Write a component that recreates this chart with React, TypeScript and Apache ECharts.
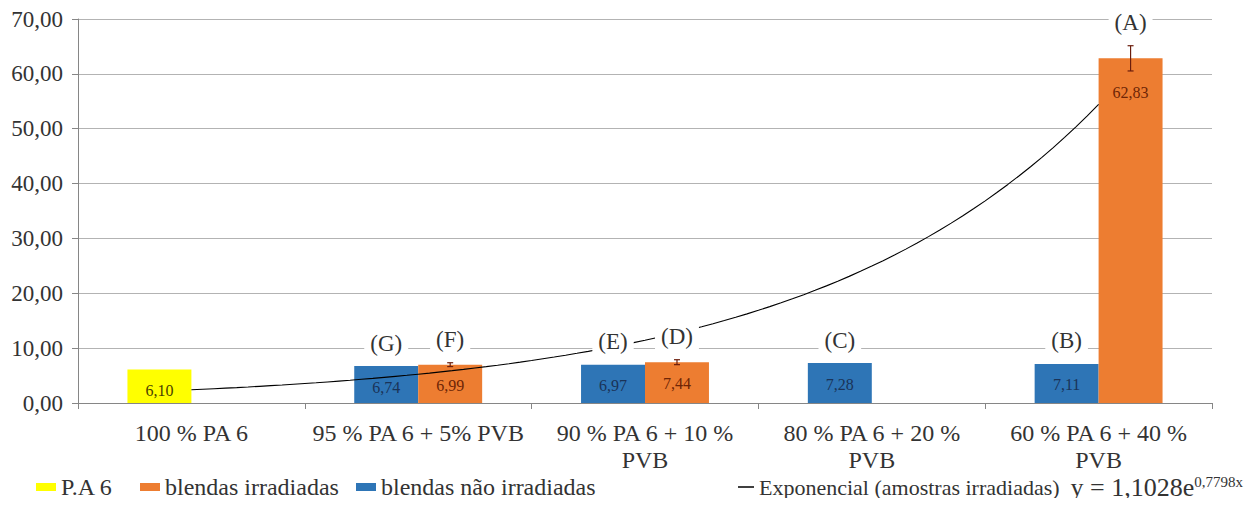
import React, { useEffect, useRef } from "react";
import * as echarts from "echarts";

const CATEGORIES = [
  "100 % PA 6",
  "95 % PA 6 + 5% PVB",
  "90 % PA 6 + 10 %\nPVB",
  "80 % PA 6 + 20 %\nPVB",
  "60 % PA 6 + 40 %\nPVB",
];
const PA6 = [6.1, null, null, null, null];
const NAO_IRRADIADAS = [null, 6.74, 6.97, 7.28, 7.11];
const IRRADIADAS = [null, 6.99, 7.44, null, 62.83];
const IRRADIADAS_ERR = [null, 0.35, 0.45, null, 2.3];
const LEFT_LETTERS = ["", "(G)", "(E)", "(C)", "(B)"];
const RIGHT_LETTERS = ["", "(F)", "(D)", "", "(A)"];
const TREND_A = 1.1028;
const TREND_B = 0.7798;
const Y_MIN = 0;
const Y_MAX = 70;
const Y_STEP = 10;

const SERIF = "Liberation Serif";
const BAR_FRAC = 0.282;

const fmt = (v: number) => v.toFixed(2).replace(".", ",");

export default function App() {
  const ref = useRef<HTMLDivElement>(null);
  useEffect(() => {
    if (!ref.current) return;
    const chart = echarts.init(ref.current, null, { renderer: "svg" });

    const trend: number[][] = [];
    for (let k = 0; k <= 80; k++) {
      const x = 1 + k * 0.05;
      trend.push([x, TREND_A * Math.exp(TREND_B * x)]);
    }

    const makeAnno = (
      values: (number | null)[],
      errs: (number | null)[] | null,
      letters: string[],
      side: number
    ) => {
      const data: number[][] = [];
      values.forEach((v, i) => {
        if (v != null) data.push([i, v, errs && errs[i] != null ? (errs[i] as number) : 0]);
      });
      return {
        type: "custom",
        xAxisIndex: 0,
        yAxisIndex: 0,
        z: 5,
        silent: true,
        data,
        encode: { x: 0, y: 1 },
        renderItem: (params: any, api: any) => {
          const cat = api.value(0);
          const val = api.value(1);
          const err = api.value(2);
          const band = api.size([1, 0])[0];
          const cx = api.coord([cat, 0])[0] + (side * band * BAR_FRAC) / 2;
          const yTop = api.coord([cat, val + err])[1];
          const yBot = api.coord([cat, val - err])[1];
          const children: any[] = [];
          if (err > 0) {
            const stroke = "#6b1d0c";
            children.push(
              { type: "line", shape: { x1: cx, y1: yTop, x2: cx, y2: yBot }, style: { stroke, lineWidth: 1.2 } },
              { type: "line", shape: { x1: cx - 3, y1: yTop, x2: cx + 3, y2: yTop }, style: { stroke, lineWidth: 1.2 } },
              { type: "line", shape: { x1: cx - 3, y1: yBot, x2: cx + 3, y2: yBot }, style: { stroke, lineWidth: 1.2 } }
            );
          }
          const letter = letters[cat];
          if (letter) {
            children.push({
              type: "text",
              x: cx,
              y: yTop - 23,
              style: {
                text: letter,
                fill: "#333",
                font: `23px ${SERIF}`,
                align: "center",
                verticalAlign: "middle",
                backgroundColor: "#fff",
                padding: [1, 6],
              },
            });
          }
          return { type: "group", children };
        },
      };
    };

    const barLabel = (color: string) => ({
      show: true,
      position: "insideTop",
      distance: 13,
      color,
      fontFamily: SERIF,
      fontSize: 16,
      formatter: (p: any) => fmt(p.value),
    });

    const barLegend = (name: string, left: number) => ({
      left,
      top: 474,
      icon: "rect",
      itemWidth: 20,
      itemHeight: 8,
      padding: 0,
      data: [name],
      textStyle: { fontFamily: SERIF, fontSize: 24, lineHeight: 26, color: "#333" },
    });

    chart.setOption({
      animation: false,
      backgroundColor: "#fff",
      textStyle: { fontFamily: SERIF },
      grid: { left: 78, right: 43, top: 19, bottom: 103, containLabel: false },
      legend: [
        barLegend("P.A 6", 36),
        barLegend("blendas irradiadas", 140),
        barLegend("blendas não irradiadas", 356),
        {
          right: 12,
          top: 474,
          icon: "rect",
          itemWidth: 16,
          itemHeight: 1.5,
          padding: 0,
          data: ["Exponencial (amostras irradiadas)"],
          formatter: (name: string) => `{t|${name}}  {eq|y = 1,1028e}{sup|0,7798x}`,
          textStyle: {
            fontFamily: SERIF,
            fontSize: 22,
            lineHeight: 26,
            color: "#333",
            rich: {
              t: { fontFamily: SERIF, fontSize: 22, lineHeight: 26, color: "#333" },
              eq: { fontFamily: SERIF, fontSize: 26, lineHeight: 26, color: "#333" },
              sup: { fontFamily: SERIF, fontSize: 15, lineHeight: 14, color: "#333", verticalAlign: "top", padding: [0, 0, 8, 0] },
            },
          },
        },
      ],
      xAxis: [
        {
          type: "category",
          data: CATEGORIES,
          axisLine: { lineStyle: { color: "#868686", width: 1.2 } },
          axisTick: { show: true, length: 6, lineStyle: { color: "#868686" } },
          axisLabel: {
            interval: 0,
            margin: 16,
            fontFamily: SERIF,
            fontSize: 24,
            lineHeight: 27,
            color: "#333",
          },
        },
        { type: "value", min: 0.5, max: 5.5, show: false },
      ],
      yAxis: {
        type: "value",
        min: Y_MIN,
        max: Y_MAX,
        interval: Y_STEP,
        axisLine: { show: true, lineStyle: { color: "#868686" } },
        axisTick: { show: true, length: 6, lineStyle: { color: "#868686" } },
        splitLine: { lineStyle: { color: "#b3b3b3", width: 1.2 } },
        axisLabel: {
          margin: 15,
          fontFamily: SERIF,
          fontSize: 23,
          color: "#333",
          formatter: (v: number) => fmt(v),
        },
      },
      series: [
        {
          name: "P.A 6",
          type: "bar",
          stack: "left",
          data: PA6,
          barWidth: `${BAR_FRAC * 100}%`,
          barGap: "0%",
          itemStyle: { color: "#FFFF00" },
          label: barLabel("#4a4200"),
        },
        {
          name: "blendas não irradiadas",
          type: "bar",
          stack: "left",
          data: NAO_IRRADIADAS,
          barWidth: `${BAR_FRAC * 100}%`,
          barGap: "0%",
          itemStyle: { color: "#2E75B6" },
          label: barLabel("#1a3358"),
        },
        {
          name: "blendas irradiadas",
          type: "bar",
          stack: "right",
          data: IRRADIADAS.map((v) =>
            v != null && v > 30 ? { value: v, label: { distance: 26 } } : v
          ),
          barWidth: `${BAR_FRAC * 100}%`,
          barGap: "0%",
          itemStyle: { color: "#ED7D31" },
          label: barLabel("#6e2506"),
        },
        {
          name: "Exponencial (amostras irradiadas)",
          type: "line",
          xAxisIndex: 1,
          data: trend,
          showSymbol: false,
          symbol: "none",
          z: 4,
          itemStyle: { color: "#000" },
          lineStyle: { color: "#000", width: 1.1 },
        },
        makeAnno(NAO_IRRADIADAS.map((v, i) => (v != null ? v : PA6[i])), null, LEFT_LETTERS, -1),
        makeAnno(IRRADIADAS, IRRADIADAS_ERR, RIGHT_LETTERS, 1),
      ],
    });
    return () => chart.dispose();
  }, []);
  return <div ref={ref} style={{ width: 1255, height: 506, margin: -8 }} />;
}
